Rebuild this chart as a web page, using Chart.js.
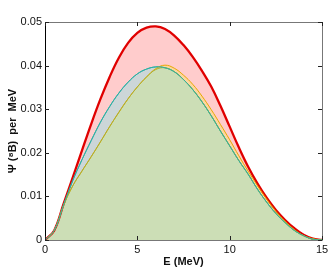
<!DOCTYPE html>
<html>
<head>
<meta charset="utf-8">
<script src="https://cdn.jsdelivr.net/npm/chart.js@4.4.0/dist/chart.umd.min.js"></script>
<style>
  html, body { margin: 0; padding: 0; background: #fff; overflow: hidden; }
  canvas { display: block; }
</style>
</head>
<body>
<canvas id="spectrum" width="332" height="271"></canvas>
<script>
// energy grid (MeV)
const energy = [0, 0.5, 1, 1.5, 2, 2.5, 3, 3.5, 4, 4.5, 5, 5.5, 6, 6.5, 7, 7.5,
                8, 8.5, 9, 9.5, 10, 10.5, 11, 11.5, 12, 12.5, 13, 13.5, 14, 14.5, 15];

const redCurve = [0, 0.0022, 0.0082, 0.0143, 0.0205, 0.0266, 0.0323, 0.0374, 0.0418, 0.0452, 0.0475, 0.0487,
                  0.0490, 0.0484, 0.0469, 0.0447, 0.0420, 0.0388, 0.0352, 0.0308, 0.0260, 0.0212, 0.0168,
                  0.0130, 0.0097, 0.0069, 0.0046, 0.0027, 0.0012, 0.0003, 0];
const tealCurve = [0, 0.0022, 0.0080, 0.0136, 0.0184, 0.0228, 0.0270, 0.0306, 0.0337, 0.0362, 0.0381, 0.0392,
                   0.0397, 0.0395, 0.0386, 0.0368, 0.0345, 0.0317, 0.0285, 0.0250, 0.0216, 0.0182, 0.0151,
                   0.0117, 0.0087, 0.0061, 0.0040, 0.0022, 0.0010, 0.0002, 0];
const orangeCurve = [0, 0.0022, 0.0079, 0.0124, 0.0158, 0.0191, 0.0225, 0.0260, 0.0293, 0.0324, 0.0351, 0.0374,
                     0.0393, 0.0401, 0.0394, 0.0378, 0.0357, 0.0330, 0.0299, 0.0265, 0.0230, 0.0193, 0.0158,
                     0.0125, 0.0094, 0.0066, 0.0043, 0.0024, 0.0010, 0.0003, 0];
const greenCurve = [0, 0.0022, 0.0079, 0.0124, 0.0158, 0.0191, 0.0225, 0.0260, 0.0293, 0.0324, 0.0351, 0.0374,
                    0.0391, 0.0395, 0.0386, 0.0368, 0.0345, 0.0317, 0.0285, 0.0250, 0.0216, 0.0182, 0.0151,
                    0.0117, 0.0087, 0.0061, 0.0040, 0.0022, 0.0010, 0.0002, 0];

const xTicks = [0, 5, 10, 15];
const yTicks = [0, 0.01, 0.02, 0.03, 0.04, 0.05];

function toPoints(values) {
    return values.map((v, i) => ({ x: energy[i], y: v }));
}

function curve(values, line, fillColor, width, order) {
    return {
        data: toPoints(values),
        borderColor: line,
        backgroundColor: fillColor,
        borderWidth: width,
        pointRadius: 0,
        tension: 0.4,
        fill: fillColor ? 'origin' : false,
        order: order
    };
}

// inward ticks + box like the original
const frameTicks = {
    id: 'frameTicks',
    afterDraw(chart) {
        const ctx = chart.ctx;
        const a = chart.chartArea;
        const xs = chart.scales.x, ys = chart.scales.y;
        ctx.save();
        ctx.lineWidth = 1;
        ctx.strokeStyle = '#777';
        ctx.beginPath();
        ctx.moveTo(a.left, a.top + 0.5); ctx.lineTo(a.right + 0.5, a.top + 0.5);
        ctx.lineTo(a.right + 0.5, a.bottom + 0.5); ctx.lineTo(a.left, a.bottom + 0.5);
        ctx.stroke();
        ctx.strokeStyle = '#000';
        ctx.beginPath();
        ctx.moveTo(a.left + 0.5, a.top); ctx.lineTo(a.left + 0.5, a.bottom + 1);
        ctx.stroke();
        ctx.strokeStyle = '#222';
        ctx.beginPath();
        xTicks.forEach(t => {
            const px = Math.round(xs.getPixelForValue(t)) + 0.5;
            ctx.moveTo(px, a.bottom); ctx.lineTo(px, a.bottom - 4);
            ctx.moveTo(px, a.top); ctx.lineTo(px, a.top + 4);
        });
        yTicks.forEach(t => {
            const py = Math.round(ys.getPixelForValue(t)) + 0.5;
            ctx.moveTo(a.left, py); ctx.lineTo(a.left + 4, py);
            ctx.moveTo(a.right, py); ctx.lineTo(a.right - 4, py);
        });
        ctx.stroke();
        ctx.restore();
    }
};

const tickFont = { family: 'Liberation Sans, Arial, sans-serif', size: 11 };
const titleFont = { family: 'Liberation Sans, Arial, sans-serif', size: 11, weight: 'bold' };

new Chart(document.getElementById('spectrum'), {
    type: 'line',
    data: {
        datasets: [
            curve(redCurve, '#e00000', 'rgb(255,204,204)', 2.3, 5),
            curve(tealCurve, '#20b4b4', 'rgb(204,214,216)', 1, 4),
            curve(orangeCurve, '#e8a800', 'rgb(254,214,160)', 1, 3),
            curve(greenCurve, '#aab030', 'rgb(204,222,182)', 1, 2),
            // teal outline again, on top of the green one
            curve(tealCurve, '#30b0a0', null, 1, 1)
        ]
    },
    options: {
        responsive: false,
        animation: false,
        devicePixelRatio: 1,
        layout: { padding: { top: 22, right: 10, left: 0, bottom: 0 } },
        plugins: {
            legend: { display: false },
            tooltip: { enabled: false },
            filler: { drawTime: 'beforeDatasetsDraw' }
        },
        scales: {
            x: {
                type: 'linear',
                min: 0, max: 15,
                grid: { display: false, drawTicks: false },
                border: { display: false },
                afterBuildTicks: s => { s.ticks = xTicks.map(v => ({ value: v })); },
                ticks: { font: tickFont, color: '#111', padding: 3, maxRotation: 0 },
                title: { display: true, text: 'E (MeV)', font: titleFont, color: '#111', padding: { top: 0, bottom: 2 } },
                afterFit: s => { s.height = 31; }
            },
            y: {
                min: 0, max: 0.05,
                grid: { display: false, drawTicks: false },
                border: { display: false },
                afterBuildTicks: s => { s.ticks = yTicks.map(v => ({ value: v })); },
                ticks: { font: tickFont, color: '#111', padding: 3, callback: v => String(v) },
                title: { display: true, text: 'Ψ (⁸B)  per  MeV', font: titleFont, color: '#111', padding: { top: 6, bottom: 0 } },
                afterFit: s => { s.width = 45; }
            }
        }
    },
    plugins: [frameTicks]
});
</script>
</body>
</html>
